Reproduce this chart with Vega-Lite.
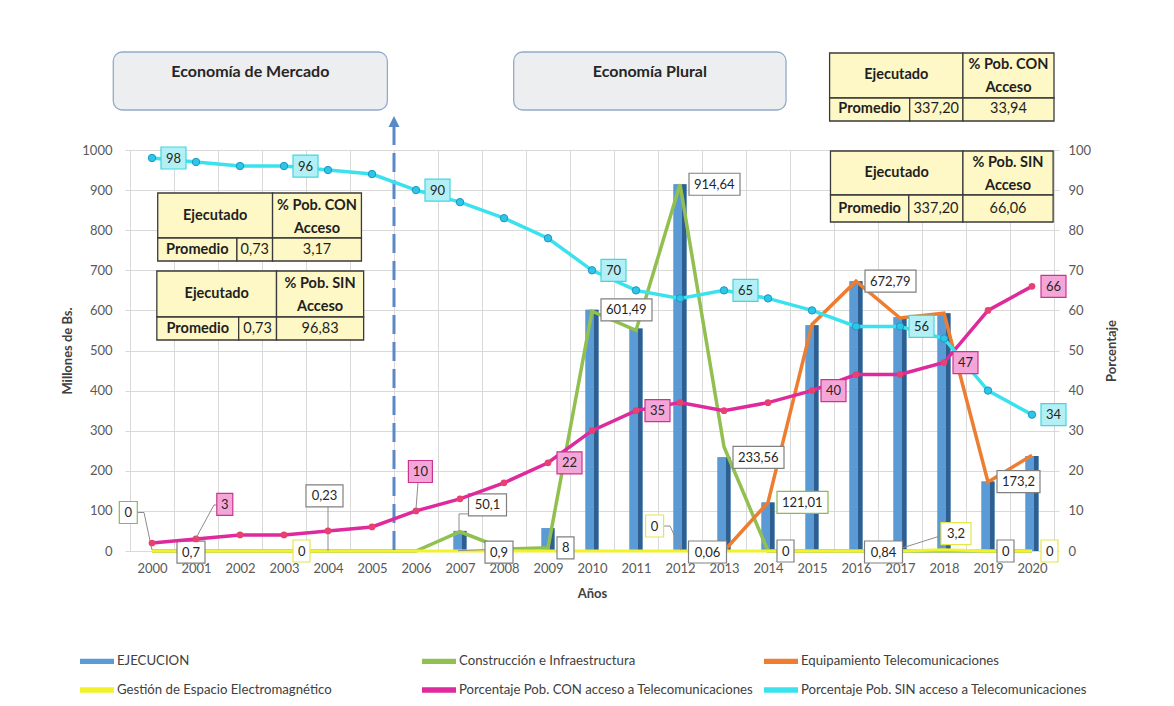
{
  "$schema": "https://vega.github.io/schema/vega-lite/v6.json",
  "width": 934,
  "height": 401,
  "autosize": {"type": "none"},
  "padding": {"left": 125, "top": 150, "right": 115, "bottom": 155},
  "background": "white",
  "config": {
    "font": "Lato",
    "view": {"stroke": null},
    "axis": {"labelFont": "Lato", "titleFont": "Lato", "labelColor": "#595959", "labelFontSize": 13, "titleColor": "#404040", "titleFontSize": 13, "titleFontWeight": "bold", "gridColor": "#D9D9D9", "gridWidth": 1, "domain": false, "ticks": false},
    "text": {"font": "Lato"}
  },
  "datasets": {
    "anual": [
      {"anio": 2000, "ejec": 0, "constr": 0, "equip": null, "gest": 0, "con": 2, "sin": 98},
      {"anio": 2001, "ejec": 0.7, "constr": 0, "equip": null, "gest": 0, "con": 3, "sin": 97},
      {"anio": 2002, "ejec": 0, "constr": 0, "equip": null, "gest": 0, "con": 4, "sin": 96},
      {"anio": 2003, "ejec": 0, "constr": 0, "equip": null, "gest": 0, "con": 4, "sin": 96},
      {"anio": 2004, "ejec": 0.23, "constr": 0, "equip": null, "gest": 0, "con": 5, "sin": 95},
      {"anio": 2005, "ejec": 0, "constr": 0, "equip": null, "gest": 0, "con": 6, "sin": 94},
      {"anio": 2006, "ejec": 0, "constr": 0, "equip": null, "gest": 0, "con": 10, "sin": 90},
      {"anio": 2007, "ejec": 50.1, "constr": 48, "equip": null, "gest": 0, "con": 13, "sin": 87},
      {"anio": 2008, "ejec": 0.9, "constr": 5, "equip": null, "gest": 0, "con": 17, "sin": 83},
      {"anio": 2009, "ejec": 57, "constr": 8, "equip": null, "gest": 0, "con": 22, "sin": 78},
      {"anio": 2010, "ejec": 601.49, "constr": 598, "equip": null, "gest": 0, "con": 30, "sin": 70},
      {"anio": 2011, "ejec": 555, "constr": 550, "equip": null, "gest": 0, "con": 35, "sin": 65},
      {"anio": 2012, "ejec": 914.64, "constr": 914.64, "equip": null, "gest": 0, "con": 37, "sin": 63},
      {"anio": 2013, "ejec": 233.56, "constr": 260, "equip": 0, "gest": 0, "con": 35, "sin": 65},
      {"anio": 2014, "ejec": 121.01, "constr": 0, "equip": 121.01, "gest": 0, "con": 37, "sin": 63},
      {"anio": 2015, "ejec": 563, "constr": 0, "equip": 565, "gest": 0, "con": 40, "sin": 60},
      {"anio": 2016, "ejec": 672.79, "constr": 0, "equip": 672.79, "gest": 0, "con": 44, "sin": 56},
      {"anio": 2017, "ejec": 583, "constr": 0, "equip": 581, "gest": 0, "con": 44, "sin": 56},
      {"anio": 2018, "ejec": 593, "constr": 0, "equip": 593, "gest": 3.2, "con": 47, "sin": 53},
      {"anio": 2019, "ejec": 173.2, "constr": 0, "equip": 172, "gest": 0, "con": 60, "sin": 40},
      {"anio": 2020, "ejec": 237, "constr": 0, "equip": 239, "gest": 0, "con": 66, "sin": 34}
    ],
    "cuadros": [
      {"texto": "Economía de Mercado", "x": 1999.12, "x2": 2005.35, "y": 1099.75, "y2": 1244.4},
      {"texto": "Economía Plural", "x": 2008.22, "x2": 2014.41, "y": 1099.75, "y2": 1244.4}
    ],
    "tablas": [
      {"tabla": 1, "texto": "Ejecutado", "tipo": "encabezado", "x": 2015.40, "x2": 2018.43, "y": 1129.7, "y2": 1241.9},
      {"tabla": 1, "texto": "% Pob. CON\nAcceso", "tipo": "encabezado2", "x": 2018.43, "x2": 2020.50, "y": 1129.7, "y2": 1241.9},
      {"tabla": 1, "texto": "Promedio", "tipo": "encabezado", "x": 2015.40, "x2": 2017.22, "y": 1072.3, "y2": 1129.7},
      {"tabla": 1, "texto": "337,20", "tipo": "valor", "x": 2017.22, "x2": 2018.43, "y": 1072.3, "y2": 1129.7},
      {"tabla": 1, "texto": "33,94", "tipo": "valor", "x": 2018.43, "x2": 2020.50, "y": 1072.3, "y2": 1129.7},
      {"tabla": 2, "texto": "Ejecutado", "tipo": "encabezado", "x": 2015.42, "x2": 2018.43, "y": 887.8, "y2": 997.5},
      {"tabla": 2, "texto": "% Pob. SIN\nAcceso", "tipo": "encabezado2", "x": 2018.43, "x2": 2020.48, "y": 887.8, "y2": 997.5},
      {"tabla": 2, "texto": "Promedio", "tipo": "encabezado", "x": 2015.42, "x2": 2017.20, "y": 820.4, "y2": 887.8},
      {"tabla": 2, "texto": "337,20", "tipo": "valor", "x": 2017.20, "x2": 2018.43, "y": 820.4, "y2": 887.8},
      {"tabla": 2, "texto": "66,06", "tipo": "valor", "x": 2018.43, "x2": 2020.48, "y": 820.4, "y2": 887.8},
      {"tabla": 3, "texto": "Ejecutado", "tipo": "encabezado", "x": 2000.13, "x2": 2002.74, "y": 780.5, "y2": 892.8},
      {"tabla": 3, "texto": "% Pob. CON\nAcceso", "tipo": "encabezado2", "x": 2002.74, "x2": 2004.76, "y": 780.5, "y2": 892.8},
      {"tabla": 3, "texto": "Promedio", "tipo": "encabezado", "x": 2000.13, "x2": 2001.93, "y": 723.2, "y2": 780.5},
      {"tabla": 3, "texto": "0,73", "tipo": "valor", "x": 2001.93, "x2": 2002.74, "y": 723.2, "y2": 780.5},
      {"tabla": 3, "texto": "3,17", "tipo": "valor", "x": 2002.74, "x2": 2004.76, "y": 723.2, "y2": 780.5},
      {"tabla": 4, "texto": "Ejecutado", "tipo": "encabezado", "x": 2000.11, "x2": 2002.83, "y": 583.5, "y2": 698.3},
      {"tabla": 4, "texto": "% Pob. SIN\nAcceso", "tipo": "encabezado2", "x": 2002.83, "x2": 2004.81, "y": 583.5, "y2": 698.3},
      {"tabla": 4, "texto": "Promedio", "tipo": "encabezado", "x": 2000.11, "x2": 2001.97, "y": 526.2, "y2": 583.5},
      {"tabla": 4, "texto": "0,73", "tipo": "valor", "x": 2001.97, "x2": 2002.83, "y": 526.2, "y2": 583.5},
      {"tabla": 4, "texto": "96,83", "tipo": "valor", "x": 2002.83, "x2": 2004.81, "y": 526.2, "y2": 583.5}
    ],
    "flecha": [{"x": 2005.5, "y": 1060, "y2": 0}],
    "etiq_bs": [
      {"serie": "ejec", "anio": 2009, "valor": 8, "texto": "8"},
      {"serie": "ejec", "anio": 2010, "valor": 601.49, "texto": "601,49"},
      {"serie": "ejec", "anio": 2012, "valor": 914.64, "texto": "914,64"},
      {"serie": "ejec", "anio": 2013, "valor": 233.56, "texto": "233,56"},
      {"serie": "constr", "anio": 2014, "valor": 121.01, "texto": "121,01"},
      {"serie": "ejec", "anio": 2014, "valor": 0, "texto": "0"},
      {"serie": "ejec", "anio": 2016, "valor": 672.79, "texto": "672,79"},
      {"serie": "ejec", "anio": 2019, "valor": 173.2, "texto": "173,2"},
      {"serie": "ejec", "anio": 2019, "valor": 0, "texto": "0"},
      {"serie": "gest", "anio": 2003, "valor": 0, "texto": "0"},
      {"serie": "gest", "anio": 2020, "valor": 0, "texto": "0"}
    ],
    "etiq_pct": [
      {"serie": "sin", "anio": 2000, "valor": 98, "texto": "98"},
      {"serie": "sin", "anio": 2003, "valor": 96, "texto": "96"},
      {"serie": "sin", "anio": 2006, "valor": 90, "texto": "90"},
      {"serie": "sin", "anio": 2010, "valor": 70, "texto": "70"},
      {"serie": "sin", "anio": 2013, "valor": 65, "texto": "65"},
      {"serie": "sin", "anio": 2017, "valor": 56, "texto": "56"},
      {"serie": "sin", "anio": 2020, "valor": 34, "texto": "34"},
      {"serie": "con", "anio": 2009, "valor": 22, "texto": "22"},
      {"serie": "con", "anio": 2011, "valor": 35, "texto": "35"},
      {"serie": "con", "anio": 2015, "valor": 40, "texto": "40"},
      {"serie": "con", "anio": 2018, "valor": 47, "texto": "47"},
      {"serie": "con", "anio": 2020, "valor": 66, "texto": "66"}
    ],
    "etiq_esp": [
      {"id": "e1", "serie": "ejec", "anio": 2001, "valor": 0.7, "texto": "0,7"},
      {"id": "e2", "serie": "ejec", "anio": 2008, "valor": 0.9, "texto": "0,9"},
      {"id": "e3", "serie": "ejec", "anio": 2013, "valor": 0, "texto": "0,06"},
      {"id": "e4", "serie": "ejec", "anio": 2017, "valor": 0, "texto": "0,84"},
      {"id": "e5", "serie": "ejec", "anio": 2004, "valor": 0.23, "texto": "0,23"},
      {"id": "e6", "serie": "ejec", "anio": 2007, "valor": 50.1, "texto": "50,1"},
      {"id": "e7", "serie": "gest", "anio": 2018, "valor": 3.2, "texto": "3,2"},
      {"id": "e8", "serie": "constr", "anio": 2000, "valor": 0, "texto": "0"},
      {"id": "e9", "serie": "gest", "anio": 2012, "valor": 0, "texto": "0"}
    ],
    "etiq_pct_esp": [
      {"id": "p1", "serie": "con", "anio": 2001, "valor": 3, "texto": "3"},
      {"id": "p2", "serie": "con", "anio": 2006, "valor": 10, "texto": "10"}
    ]
  },
  "layer": [
    {
      "layer": [
        {
          "data": {"name": "anual"},
          "mark": {"type": "bar", "width": 13},
          "encoding": {
            "x": {"field": "anio", "type": "quantitative", "scale": {"domain": [1999.5, 2020.5], "nice": false, "zero": false},
              "axis": {"values": [2000,2001,2002,2003,2004,2005,2006,2007,2008,2009,2010,2011,2012,2013,2014,2015,2016,2017,2018,2019,2020], "format": "d", "grid": false, "labelPadding": 11, "title": "Años", "titlePadding": 12}},
            "y": {"field": "ejec", "type": "quantitative", "scale": {"domain": [0, 1000], "nice": false},
              "axis": {"values": [0,100,200,300,400,500,600,700,800,900,1000], "format": "d", "grid": true, "labelPadding": 13, "title": "Millones de Bs.", "titlePadding": 7}},
            "color": {"datum": "EJECUCION", "type": "nominal",
              "scale": {"domain": ["EJECUCION", "Gestión de Espacio Electromagnético", "Construcción e Infraestructura", "Porcentaje Pob. CON acceso a Telecomunicaciones", "Equipamiento Telecomunicaciones", "Porcentaje Pob. SIN acceso a Telecomunicaciones"],
                "range": ["#5B9BD5", "#F2F22A", "#92C050", "#DE2A9C", "#ED7D31", "#3AE2EE"]},
              "legend": {"title": null, "orient": "none", "legendX": -45, "legendY": 494, "columns": 3, "gridAlign": "all", "columnPadding": 10, "rowPadding": 5,
                "symbolType": "M-1,-0.16H1V0.16H-1Z", "symbolSize": 1156, "labelFont": "Lato", "labelFontSize": 13.2, "labelColor": "#404040", "labelLimit": 400, "labelOffset": 3,
                "encode": {"symbols": {"update": {"fill": {"scale": "color", "field": "value"}, "stroke": {"value": "transparent"}, "strokeWidth": {"value": 0}, "opacity": {"value": 1}}}}}}
          }
        },
        {
          "data": {"name": "anual"},
          "mark": {"type": "bar", "width": 13, "fill": {"gradient": "linear", "x1": 0, "x2": 1, "y1": 0, "y2": 0, "stops": [{"offset": 0, "color": "#5B9BD5"}, {"offset": 0.64, "color": "#5B9BD5"}, {"offset": 0.68, "color": "#2F5F91"}, {"offset": 1, "color": "#2F5F91"}]}},
          "encoding": {
            "x": {"field": "anio", "type": "quantitative"},
            "y": {"field": "ejec", "type": "quantitative"}
          }
        },
        {
          "data": {"name": "anual"},
          "mark": {"type": "line", "strokeWidth": 3.5},
          "encoding": {
            "x": {"field": "anio", "type": "quantitative"},
            "y": {"field": "constr", "type": "quantitative"},
            "color": {"datum": "Construcción e Infraestructura", "type": "nominal"}
          }
        },
        {
          "data": {"name": "anual"},
          "transform": [{"filter": "datum.equip != null"}],
          "mark": {"type": "line", "strokeWidth": 3.5},
          "encoding": {
            "x": {"field": "anio", "type": "quantitative"},
            "y": {"field": "equip", "type": "quantitative"},
            "color": {"datum": "Equipamiento Telecomunicaciones", "type": "nominal"}
          }
        },
        {
          "data": {"name": "anual"},
          "mark": {"type": "line", "strokeWidth": 3},
          "encoding": {
            "x": {"field": "anio", "type": "quantitative"},
            "y": {"field": "gest", "type": "quantitative"},
            "color": {"datum": "Gestión de Espacio Electromagnético", "type": "nominal"}
          }
        },
        {
          "data": {"name": "cuadros"},
          "mark": {"type": "rect", "cornerRadius": 9, "fill": "#EDEEF0", "stroke": "#93AACA", "strokeWidth": 1.3},
          "encoding": {
            "x": {"field": "x", "type": "quantitative"},
            "x2": {"field": "x2"},
            "y": {"field": "y", "type": "quantitative"},
            "y2": {"field": "y2"}
          }
        },
        {
          "data": {"name": "cuadros"},
          "transform": [{"calculate": "(datum.x + datum.x2) / 2", "as": "cx"}, {"calculate": "datum.y2 - 50", "as": "ty"}],
          "mark": {"type": "text", "fontSize": 16, "fontWeight": "bold", "color": "#262626", "align": "center", "baseline": "middle"},
          "encoding": {
            "x": {"field": "cx", "type": "quantitative"},
            "y": {"field": "ty", "type": "quantitative"},
            "text": {"field": "texto"}
          }
        },
        {
          "data": {"name": "tablas"},
          "mark": {"type": "rect", "fill": "#FEF8C6", "stroke": "#3A3A3A", "strokeWidth": 1.3},
          "encoding": {
            "x": {"field": "x", "type": "quantitative"},
            "x2": {"field": "x2"},
            "y": {"field": "y", "type": "quantitative"},
            "y2": {"field": "y2"}
          }
        },
        {
          "data": {"name": "tablas"},
          "transform": [{"filter": "datum.tipo == 'encabezado'"}, {"calculate": "(datum.x + datum.x2) / 2", "as": "cx"}, {"calculate": "(datum.y + datum.y2) / 2", "as": "cy"}],
          "mark": {"type": "text", "fontSize": 14.5, "fontWeight": "bold", "color": "#1F1F1F", "align": "center", "baseline": "middle"},
          "encoding": {
            "x": {"field": "cx", "type": "quantitative"},
            "y": {"field": "cy", "type": "quantitative"},
            "text": {"field": "texto"}
          }
        },
        {
          "data": {"name": "tablas"},
          "transform": [{"filter": "datum.tipo == 'encabezado2'"}, {"calculate": "(datum.x + datum.x2) / 2", "as": "cx"}, {"calculate": "(datum.y + datum.y2) / 2", "as": "cy"}],
          "mark": {"type": "text", "fontSize": 14.5, "fontWeight": "bold", "color": "#1F1F1F", "align": "center", "baseline": "middle", "lineBreak": "\n", "lineHeight": 23, "dy": -10},
          "encoding": {
            "x": {"field": "cx", "type": "quantitative"},
            "y": {"field": "cy", "type": "quantitative"},
            "text": {"field": "texto"}
          }
        },
        {
          "data": {"name": "tablas"},
          "transform": [{"filter": "datum.tipo == 'valor'"}, {"calculate": "(datum.x + datum.x2) / 2", "as": "cx"}, {"calculate": "(datum.y + datum.y2) / 2", "as": "cy"}],
          "mark": {"type": "text", "fontSize": 14.5, "color": "#1F1F1F", "align": "center", "baseline": "middle"},
          "encoding": {
            "x": {"field": "cx", "type": "quantitative"},
            "y": {"field": "cy", "type": "quantitative"},
            "text": {"field": "texto"}
          }
        },
        {
          "data": {"name": "flecha"},
          "mark": {"type": "rule", "color": "#5A8AC6", "strokeWidth": 3, "strokeDash": [19, 8]},
          "encoding": {
            "x": {"field": "x", "type": "quantitative"},
            "y": {"field": "y", "type": "quantitative"},
            "y2": {"field": "y2"}
          }
        },
        {
          "data": {"name": "flecha"},
          "mark": {"type": "point", "shape": "M-5.5,1L0,-10L5.5,1Z", "size": 4, "filled": true, "color": "#5A8AC6", "opacity": 1},
          "encoding": {
            "x": {"field": "x", "type": "quantitative"},
            "y": {"field": "y", "type": "quantitative"}
          }
        },
        {
          "data": {"name": "etiq_bs"},
          "transform": [{"calculate": "length(datum.texto)", "as": "len"}],
          "mark": {"type": "point", "size": 4, "filled": true, "strokeWidth": 1.2, "opacity": 1},
          "encoding": {
            "x": {"field": "anio", "type": "quantitative"},
            "y": {"field": "valor", "type": "quantitative"},
            "shape": {"field": "len", "type": "ordinal", "legend": null, "scale": {"domain": [1, 2, 3, 4, 5, 6], "range": ["M9,-11H26V11H9Z", "M9,-11H34V11H9Z", "M9,-11H38V11H9Z", "M9,-11H46V11H9Z", "M9,-11H52V11H9Z", "M9,-11H60V11H9Z"]}},
            "fill": {"field": "serie", "type": "nominal", "legend": null, "scale": {"domain": ["sin", "con", "ejec", "gest", "constr"], "range": ["#B2F0F5", "#F5A6D9", "#FFFFFF", "#FFFFFF", "#FFFFFF"]}},
            "stroke": {"field": "serie", "type": "nominal", "legend": null, "scale": {"domain": ["sin", "con", "ejec", "gest", "constr"], "range": ["#45D5E0", "#C8358F", "#808080", "#E6E64A", "#8DB850"]}}
          }
        },
        {
          "data": {"name": "etiq_bs"},
          "mark": {"type": "text", "fontSize": 13, "color": "#262626", "align": "left", "baseline": "middle", "dx": 14, "dy": 0.5},
          "encoding": {
            "x": {"field": "anio", "type": "quantitative"},
            "y": {"field": "valor", "type": "quantitative"},
            "text": {"field": "texto"}
          }
        },
        {
          "data": {"name": "etiq_esp"},
          "transform": [{"filter": "datum.id == 'e2'"}],
          "mark": {"type": "point", "shape": "M-46,0L-19,-1", "size": 4, "filled": false, "color": "#8C8C8C", "strokeWidth": 1, "opacity": 1},
          "encoding": {"x": {"field": "anio", "type": "quantitative"}, "y": {"field": "valor", "type": "quantitative"}}
        },
        {
          "data": {"name": "etiq_esp"},
          "transform": [{"filter": "datum.id == 'e5'"}],
          "mark": {"type": "point", "shape": "M0,-44V0", "size": 4, "filled": false, "color": "#8C8C8C", "strokeWidth": 1, "opacity": 1},
          "encoding": {"x": {"field": "anio", "type": "quantitative"}, "y": {"field": "valor", "type": "quantitative"}}
        },
        {
          "data": {"name": "etiq_esp"},
          "transform": [{"filter": "datum.id == 'e6'"}],
          "mark": {"type": "point", "shape": "M-1,0V-17H8.5", "size": 4, "filled": false, "color": "#8C8C8C", "strokeWidth": 1, "opacity": 1},
          "encoding": {"x": {"field": "anio", "type": "quantitative"}, "y": {"field": "valor", "type": "quantitative"}}
        },
        {
          "data": {"name": "etiq_esp"},
          "transform": [{"filter": "datum.id == 'e7'"}],
          "mark": {"type": "point", "shape": "M-41,-2L-3,-14", "size": 4, "filled": false, "color": "#8C8C8C", "strokeWidth": 1, "opacity": 1},
          "encoding": {"x": {"field": "anio", "type": "quantitative"}, "y": {"field": "valor", "type": "quantitative"}}
        },
        {
          "data": {"name": "etiq_esp"},
          "transform": [{"filter": "datum.id == 'e8'"}],
          "mark": {"type": "point", "shape": "M-14.7,-38.5H-8L0,-1", "size": 4, "filled": false, "color": "#8C8C8C", "strokeWidth": 1, "opacity": 1},
          "encoding": {"x": {"field": "anio", "type": "quantitative"}, "y": {"field": "valor", "type": "quantitative"}}
        },
        {
          "data": {"name": "etiq_esp"},
          "transform": [{"filter": "datum.id == 'e9'"}],
          "mark": {"type": "point", "shape": "M-16.4,-25H-10L1,-1", "size": 4, "filled": false, "color": "#8C8C8C", "strokeWidth": 1, "opacity": 1},
          "encoding": {"x": {"field": "anio", "type": "quantitative"}, "y": {"field": "valor", "type": "quantitative"}}
        },
        {
          "data": {"name": "etiq_esp"},
          "transform": [{"filter": "datum.id == 'e1' || datum.id == 'e2'"}],
          "layer": [
            {"mark": {"type": "point", "shape": "M-19,-9.5H9V12.5H-19Z", "size": 4, "filled": true, "strokeWidth": 1.2, "opacity": 1},
             "encoding": {"x": {"field": "anio", "type": "quantitative"}, "y": {"field": "valor", "type": "quantitative"}, "fill": {"field": "serie", "type": "nominal"}, "stroke": {"field": "serie", "type": "nominal"}}},
            {"mark": {"type": "text", "fontSize": 13, "color": "#262626", "align": "center", "baseline": "middle", "dx": -5, "dy": 2},
             "encoding": {"x": {"field": "anio", "type": "quantitative"}, "y": {"field": "valor", "type": "quantitative"}, "text": {"field": "texto"}}}
          ]
        },
        {
          "data": {"name": "etiq_esp"},
          "transform": [{"filter": "datum.id == 'e3' || datum.id == 'e4'"}],
          "layer": [
            {"mark": {"type": "point", "shape": "M-35.5,-10H2.5V12H-35.5Z", "size": 4, "filled": true, "strokeWidth": 1.2, "opacity": 1},
             "encoding": {"x": {"field": "anio", "type": "quantitative"}, "y": {"field": "valor", "type": "quantitative"}, "fill": {"field": "serie", "type": "nominal"}, "stroke": {"field": "serie", "type": "nominal"}}},
            {"mark": {"type": "text", "fontSize": 13, "color": "#262626", "align": "center", "baseline": "middle", "dx": -16.5, "dy": 1.5},
             "encoding": {"x": {"field": "anio", "type": "quantitative"}, "y": {"field": "valor", "type": "quantitative"}, "text": {"field": "texto"}}}
          ]
        },
        {
          "data": {"name": "etiq_esp"},
          "transform": [{"filter": "datum.id == 'e5'"}],
          "layer": [
            {"mark": {"type": "point", "shape": "M-22,-66H15V-44H-22Z", "size": 4, "filled": true, "strokeWidth": 1.2, "opacity": 1},
             "encoding": {"x": {"field": "anio", "type": "quantitative"}, "y": {"field": "valor", "type": "quantitative"}, "fill": {"field": "serie", "type": "nominal"}, "stroke": {"field": "serie", "type": "nominal"}}},
            {"mark": {"type": "text", "fontSize": 13, "color": "#262626", "align": "center", "baseline": "middle", "dx": -3.5, "dy": -54.5},
             "encoding": {"x": {"field": "anio", "type": "quantitative"}, "y": {"field": "valor", "type": "quantitative"}, "text": {"field": "texto"}}}
          ]
        },
        {
          "data": {"name": "etiq_esp"},
          "transform": [{"filter": "datum.id == 'e6'"}],
          "layer": [
            {"mark": {"type": "point", "shape": "M8.5,-37H46.5V-15H8.5Z", "size": 4, "filled": true, "strokeWidth": 1.2, "opacity": 1},
             "encoding": {"x": {"field": "anio", "type": "quantitative"}, "y": {"field": "valor", "type": "quantitative"}, "fill": {"field": "serie", "type": "nominal"}, "stroke": {"field": "serie", "type": "nominal"}}},
            {"mark": {"type": "text", "fontSize": 13, "color": "#262626", "align": "center", "baseline": "middle", "dx": 27.5, "dy": -25.5},
             "encoding": {"x": {"field": "anio", "type": "quantitative"}, "y": {"field": "valor", "type": "quantitative"}, "text": {"field": "texto"}}}
          ]
        },
        {
          "data": {"name": "etiq_esp"},
          "transform": [{"filter": "datum.id == 'e7'"}],
          "layer": [
            {"mark": {"type": "point", "shape": "M-3,-27H27V-5H-3Z", "size": 4, "filled": true, "strokeWidth": 1.2, "opacity": 1},
             "encoding": {"x": {"field": "anio", "type": "quantitative"}, "y": {"field": "valor", "type": "quantitative"}, "fill": {"field": "serie", "type": "nominal"}, "stroke": {"field": "serie", "type": "nominal"}}},
            {"mark": {"type": "text", "fontSize": 13, "color": "#262626", "align": "center", "baseline": "middle", "dx": 12, "dy": -15.5},
             "encoding": {"x": {"field": "anio", "type": "quantitative"}, "y": {"field": "valor", "type": "quantitative"}, "text": {"field": "texto"}}}
          ]
        },
        {
          "data": {"name": "etiq_esp"},
          "transform": [{"filter": "datum.id == 'e8'"}],
          "layer": [
            {"mark": {"type": "point", "shape": "M-32.7,-49.5H-14.7V-27.5H-32.7Z", "size": 4, "filled": true, "strokeWidth": 1.2, "opacity": 1},
             "encoding": {"x": {"field": "anio", "type": "quantitative"}, "y": {"field": "valor", "type": "quantitative"}, "fill": {"field": "serie", "type": "nominal"}, "stroke": {"field": "serie", "type": "nominal"}}},
            {"mark": {"type": "text", "fontSize": 13, "color": "#262626", "align": "center", "baseline": "middle", "dx": -23.7, "dy": -38},
             "encoding": {"x": {"field": "anio", "type": "quantitative"}, "y": {"field": "valor", "type": "quantitative"}, "text": {"field": "texto"}}}
          ]
        },
        {
          "data": {"name": "etiq_esp"},
          "transform": [{"filter": "datum.id == 'e9'"}],
          "layer": [
            {"mark": {"type": "point", "shape": "M-34.4,-36H-16.4V-14H-34.4Z", "size": 4, "filled": true, "strokeWidth": 1.2, "opacity": 1},
             "encoding": {"x": {"field": "anio", "type": "quantitative"}, "y": {"field": "valor", "type": "quantitative"}, "fill": {"field": "serie", "type": "nominal"}, "stroke": {"field": "serie", "type": "nominal"}}},
            {"mark": {"type": "text", "fontSize": 13, "color": "#262626", "align": "center", "baseline": "middle", "dx": -25.4, "dy": -24.5},
             "encoding": {"x": {"field": "anio", "type": "quantitative"}, "y": {"field": "valor", "type": "quantitative"}, "text": {"field": "texto"}}}
          ]
        }
      ]
    },
    {
      "layer": [
        {
          "data": {"name": "anual"},
          "mark": {"type": "line", "strokeWidth": 3.5},
          "encoding": {
            "x": {"field": "anio", "type": "quantitative",
              "axis": {"orient": "bottom", "values": [1999.5,2000.5,2001.5,2002.5,2003.5,2004.5,2005.5,2006.5,2007.5,2008.5,2009.5,2010.5,2011.5,2012.5,2013.5,2014.5,2015.5,2016.5,2017.5,2018.5,2019.5,2020.5], "grid": true, "labels": false, "title": null}},
            "y": {"field": "con", "type": "quantitative", "scale": {"domain": [0, 100], "nice": false},
              "axis": {"orient": "right", "values": [0,10,20,30,40,50,60,70,80,90,100], "grid": false, "labelPadding": 9, "title": "Porcentaje", "titlePadding": 28, "titleAngle": 270}},
            "color": {"datum": "Porcentaje Pob. CON acceso a Telecomunicaciones", "type": "nominal"}
          }
        },
        {
          "data": {"name": "anual"},
          "mark": {"type": "point", "filled": true, "size": 45, "color": "#E8416F", "opacity": 1},
          "encoding": {
            "x": {"field": "anio", "type": "quantitative"},
            "y": {"field": "con", "type": "quantitative"}
          }
        },
        {
          "data": {"name": "anual"},
          "mark": {"type": "line", "strokeWidth": 3.5},
          "encoding": {
            "x": {"field": "anio", "type": "quantitative"},
            "y": {"field": "sin", "type": "quantitative"},
            "color": {"datum": "Porcentaje Pob. SIN acceso a Telecomunicaciones", "type": "nominal"}
          }
        },
        {
          "data": {"name": "anual"},
          "mark": {"type": "point", "filled": true, "size": 55, "fill": "#2EC6E8", "stroke": "#1A98C0", "strokeWidth": 1, "opacity": 1},
          "encoding": {
            "x": {"field": "anio", "type": "quantitative"},
            "y": {"field": "sin", "type": "quantitative"}
          }
        },
        {
          "data": {"name": "etiq_pct"},
          "transform": [{"calculate": "length(datum.texto)", "as": "len"}],
          "mark": {"type": "point", "size": 4, "filled": true, "strokeWidth": 1.2, "opacity": 1},
          "encoding": {
            "x": {"field": "anio", "type": "quantitative"},
            "y": {"field": "valor", "type": "quantitative"},
            "shape": {"field": "len", "type": "ordinal", "legend": null},
            "fill": {"field": "serie", "type": "nominal"},
            "stroke": {"field": "serie", "type": "nominal"}
          }
        },
        {
          "data": {"name": "etiq_pct"},
          "mark": {"type": "text", "fontSize": 13, "color": "#262626", "align": "left", "baseline": "middle", "dx": 14, "dy": 0.5},
          "encoding": {
            "x": {"field": "anio", "type": "quantitative"},
            "y": {"field": "valor", "type": "quantitative"},
            "text": {"field": "texto"}
          }
        },
        {
          "data": {"name": "etiq_pct_esp"},
          "transform": [{"filter": "datum.id == 'p1'"}],
          "layer": [
            {"mark": {"type": "point", "shape": "M0,-1L18,-34H20.8", "size": 4, "filled": false, "color": "#8C8C8C", "strokeWidth": 1, "opacity": 1},
             "encoding": {"x": {"field": "anio", "type": "quantitative"}, "y": {"field": "valor", "type": "quantitative"}}},
            {"mark": {"type": "point", "shape": "M20.8,-45.5H36.8V-23.5H20.8Z", "size": 4, "filled": true, "strokeWidth": 1.2, "opacity": 1},
             "encoding": {"x": {"field": "anio", "type": "quantitative"}, "y": {"field": "valor", "type": "quantitative"}, "fill": {"field": "serie", "type": "nominal"}, "stroke": {"field": "serie", "type": "nominal"}}},
            {"mark": {"type": "text", "fontSize": 13, "color": "#262626", "align": "center", "baseline": "middle", "dx": 28.8, "dy": -34},
             "encoding": {"x": {"field": "anio", "type": "quantitative"}, "y": {"field": "valor", "type": "quantitative"}, "text": {"field": "texto"}}}
          ]
        },
        {
          "data": {"name": "etiq_pct_esp"},
          "transform": [{"filter": "datum.id == 'p2'"}],
          "layer": [
            {"mark": {"type": "point", "shape": "M2,-28.4L0,-2", "size": 4, "filled": false, "color": "#8C8C8C", "strokeWidth": 1, "opacity": 1},
             "encoding": {"x": {"field": "anio", "type": "quantitative"}, "y": {"field": "valor", "type": "quantitative"}}},
            {"mark": {"type": "point", "shape": "M-7.6,-50.4H16.4V-28.4H-7.6Z", "size": 4, "filled": true, "strokeWidth": 1.2, "opacity": 1},
             "encoding": {"x": {"field": "anio", "type": "quantitative"}, "y": {"field": "valor", "type": "quantitative"}, "fill": {"field": "serie", "type": "nominal"}, "stroke": {"field": "serie", "type": "nominal"}}},
            {"mark": {"type": "text", "fontSize": 13, "color": "#262626", "align": "center", "baseline": "middle", "dx": 4.4, "dy": -39},
             "encoding": {"x": {"field": "anio", "type": "quantitative"}, "y": {"field": "valor", "type": "quantitative"}, "text": {"field": "texto"}}}
          ]
        }
      ]
    }
  ],
  "resolve": {"scale": {"y": "independent"}, "axis": {"x": "independent"}}
}
